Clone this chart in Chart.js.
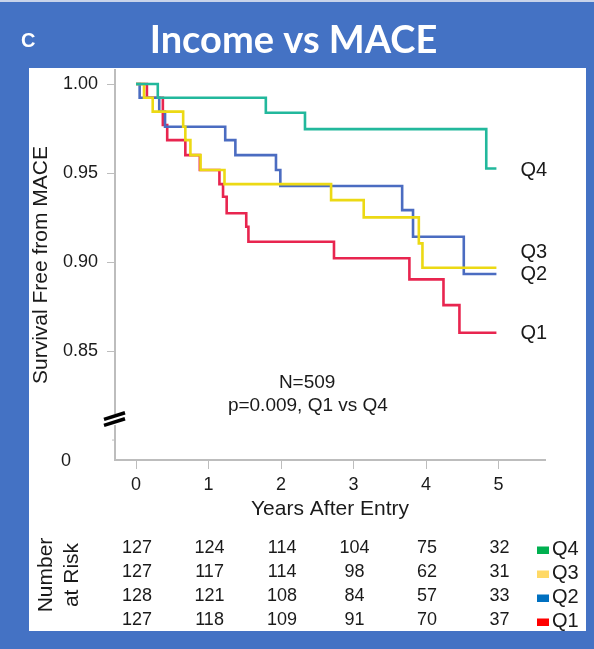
<!DOCTYPE html>
<html>
<head>
<meta charset="utf-8">
<script src="https://cdn.jsdelivr.net/npm/chart.js@4.4.1/dist/chart.umd.min.js"></script>
<style>
  html, body { margin:0; padding:0; }
  body { width:594px; height:649px; background:#4472C4; position:relative; overflow:hidden; }
  #topline { position:absolute; left:0; top:0; width:594px; height:2px; background:#c8d3ea; }
  #panel { position:absolute; left:29px; top:68px; width:557px; height:563px; background:#ffffff; }
  #wrap { position:absolute; left:0; top:0; width:594px; height:649px; }
</style>
</head>
<body>
<div id="topline"></div>
<div id="panel"></div>
<div id="wrap"><canvas id="c" width="594" height="649"></canvas></div>
<script>
// ---------- data ----------
const panelLetter = 'C';
const chartTitle = 'Income vs MACE';
const groupNames = ['Q4', 'Q3', 'Q2', 'Q1'];

const q4Years = [0, 0.30, 1.79, 2.33, 4.83, 4.97];
const q4Surv  = [1, 0.9923, 0.9839, 0.9747, 0.9526, 0.9526];

const q3Years = [0, 0.11, 0.23, 0.65, 0.68, 0.75, 0.89, 1.22, 2.69, 3.14, 3.90, 3.95, 4.97];
const q3Surv  = [1, 0.9923, 0.9845, 0.9760, 0.9685, 0.9601, 0.9517, 0.9438, 0.9348, 0.9251, 0.9105, 0.8968, 0.8968];

const q2Years = [0, 0.05, 0.32, 0.40, 1.23, 1.37, 1.93, 1.99, 3.67, 3.82, 4.52, 4.97];
const q2Surv  = [1, 0.9923, 0.9845, 0.9760, 0.9685, 0.9601, 0.9517, 0.9427, 0.9292, 0.9142, 0.8933, 0.8933];

const q1Years = [0, 0.15, 0.37, 0.43, 0.68, 0.88, 1.15, 1.20, 1.25, 1.52, 1.55, 2.73, 3.77, 4.24, 4.46, 4.97];
const q1Surv  = [1, 0.9923, 0.9770, 0.9685, 0.9601, 0.9517, 0.9438, 0.9367, 0.9274, 0.9198, 0.9114, 0.9021, 0.8903, 0.8758, 0.8603, 0.8603];

const xTickValues = [0, 1, 2, 3, 4, 5];
const yTickValues = [0.85, 0.90, 0.95, 1.00];
const yBottomLabel = '0';

const riskYears = [0, 1, 2, 3, 4, 5];
const riskQ4 = [127, 124, 114, 104, 75, 32];
const riskQ3 = [127, 117, 114, 98, 62, 31];
const riskQ2 = [128, 121, 108, 84, 57, 33];
const riskQ1 = [127, 118, 109, 91, 70, 37];

const annotationLines = ['N=509', 'p=0.009, Q1 vs Q4'];

// ---------- styles ----------
const FONT = "'Liberation Sans', Arial, sans-serif";
const lineColors = { Q4:'#22B89C', Q3:'#ECD914', Q2:'#4B6CC1', Q1:'#E8254F' };
const legendColors = { Q4:'#00B050', Q3:'#FFD966', Q2:'#0070C0', Q1:'#FF0000' };
const axisGray = '#bdbdbd';
const textCol = '#1a1a1a';

function pts(xs, ys) { return xs.map((v, i) => ({ x: v, y: ys[i] })); }

const series = [
  { name:'Q4', years:q4Years, surv:q4Surv, order:0, dy:2 },
  { name:'Q3', years:q3Years, surv:q3Surv, order:1, dy:-15 },
  { name:'Q2', years:q2Years, surv:q2Surv, order:2, dy:0 },
  { name:'Q1', years:q1Years, surv:q1Surv, order:3, dy:1 }
];
const riskRows = [riskQ4, riskQ3, riskQ2, riskQ1];

const decor = {
  id: 'decor',
  afterDraw(chart) {
    const { ctx, chartArea: ca, scales: { x, y } } = chart;
    ctx.save();

    // panel title
    ctx.fillStyle = '#ffffff';
    ctx.textBaseline = 'alphabetic';
    ctx.textAlign = 'left';
    ctx.font = "bold 20px " + FONT;
    ctx.fillText(panelLetter, 21, 47);
    ctx.textAlign = 'center';
    ctx.font = "bold 38px Lato, 'Liberation Sans', sans-serif";
    ctx.fillText(chartTitle, 293.5, 53);

    // axis break on y axis
    const yb = y.getPixelForValue(0.8118);
    const ax = ca.left;
    ctx.fillStyle = '#ffffff';
    ctx.fillRect(ax - 3, yb - 5, 6, 11);
    ctx.strokeStyle = '#000000';
    ctx.lineWidth = 3.5;
    ctx.lineCap = 'butt';
    [-3, 3].forEach(off => {
      ctx.beginPath();
      ctx.moveTo(ax - 11, yb + off + 3.3);
      ctx.lineTo(ax + 10, yb + off - 3.3);
      ctx.stroke();
    });
    // minor tick
    const ym = y.getPixelForValue(0.80);
    ctx.strokeStyle = axisGray;
    ctx.lineWidth = 1;
    ctx.beginPath();
    ctx.moveTo(ax - 3, ym);
    ctx.lineTo(ax, ym);
    ctx.stroke();

    // bottom "0" label of y axis
    ctx.fillStyle = textCol;
    ctx.font = "18px " + FONT;
    ctx.textAlign = 'center';
    ctx.textBaseline = 'middle';
    ctx.fillText(yBottomLabel, y.left + 37, y.bottom + 1);

    // annotation
    ctx.font = "19px " + FONT;
    ctx.fillText(annotationLines[0], x.getPixelForValue(2.36), y.getPixelForValue(0.832));
    ctx.fillText(annotationLines[1], x.getPixelForValue(2.37), y.getPixelForValue(0.819));

    // group labels at curve ends
    ctx.font = "20px " + FONT;
    ctx.textAlign = 'left';
    series.forEach(s => {
      const n = s.years.length - 1;
      ctx.fillText(s.name, x.getPixelForValue(s.years[n]) + 24, y.getPixelForValue(s.surv[n]) + s.dy);
    });

    // number at risk table
    const row0 = x.bottom + 26;
    const rowStep = 24;
    ctx.font = "18px " + FONT;
    ctx.textAlign = 'center';
    riskRows.forEach((row, r) => {
      row.forEach((v, i) => {
        ctx.fillText(String(v), x.getPixelForValue(riskYears[i]) + 1, row0 + r * rowStep);
      });
      const nm = groupNames[r];
      ctx.fillStyle = legendColors[nm];
      ctx.fillRect(537, row0 + r * rowStep - 1.5, 12, 7.5);
      ctx.fillStyle = textCol;
      ctx.textAlign = 'left';
      ctx.font = "20px " + FONT;
      ctx.fillText(nm, 552, row0 + r * rowStep + 1);
      ctx.textAlign = 'center';
      ctx.font = "18px " + FONT;
    });

    // "Number at Risk" rotated
    ctx.font = "21px " + FONT;
    ctx.textAlign = 'center';
    ctx.textBaseline = 'middle';
    [['Number', 46], ['at Risk', 72]].forEach(([t, cx]) => {
      ctx.save();
      ctx.translate(cx, 575);
      ctx.rotate(-Math.PI / 2);
      ctx.fillText(t, 0, 0);
      ctx.restore();
    });

    ctx.restore();
  }
};

Chart.defaults.font.family = FONT;
Chart.defaults.color = textCol;

new Chart(document.getElementById('c'), {
  type: 'line',
  data: {
    datasets: series.map(s => ({
      label: s.name,
      data: pts(s.years, s.surv),
      borderColor: lineColors[s.name],
      backgroundColor: lineColors[s.name],
      borderWidth: 2.6,
      pointRadius: 0,
      stepped: true,
      fill: false,
      order: s.order,
      clip: false
    }))
  },
  options: {
    responsive: false,
    animation: false,
    devicePixelRatio: 1,
    layout: { padding: { left: 29, top: 70, right: 49, bottom: 127 } },
    plugins: { legend: { display: false }, tooltip: { enabled: false }, title: { display: false } },
    scales: {
      x: {
        type: 'linear',
        min: -0.29,
        max: 5.64,
        afterBuildTicks: s => { s.ticks = xTickValues.map(v => ({ value: v })); },
        afterFit: s => { s.height = 62; },
        grid: { display: true, drawOnChartArea: false, drawTicks: true, tickLength: 9, color: axisGray, lineWidth: 1 },
        border: { display: true, color: axisGray, width: 2 },
        ticks: { font: { size: 18 }, color: textCol, padding: 5, maxRotation: 0, autoSkip: false, callback: v => String(v) },
        title: { display: true, text: 'Years After Entry', font: { size: 21 }, color: textCol, padding: 0 }
      },
      y: {
        type: 'linear',
        min: 0.7888,
        max: 1.0079,
        afterBuildTicks: s => { s.ticks = yTickValues.map(v => ({ value: v })); },
        afterFit: s => { s.width = 86; },
        grid: { display: true, drawOnChartArea: false, drawTicks: true, tickLength: 8, color: axisGray, lineWidth: 1 },
        border: { display: true, color: axisGray, width: 2 },
        ticks: { font: { size: 18 }, color: textCol, padding: 9, autoSkip: false, callback: v => Number(v).toFixed(2) },
        title: { display: true, text: 'Survival Free from MACE', font: { size: 21 }, color: textCol, padding: 0 }
      }
    }
  },
  plugins: [decor]
});
</script>
</body>
</html>
